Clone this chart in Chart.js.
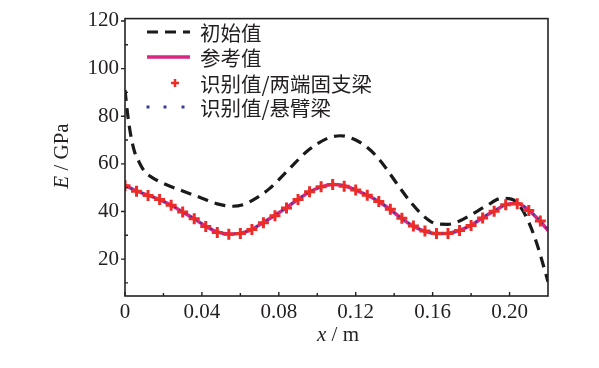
<!DOCTYPE html>
<html>
<head>
<meta charset="utf-8">
<script src="https://cdn.jsdelivr.net/npm/chart.js@4"></script>
<style>
  html, body { margin: 0; padding: 0; background: #fff; }
  #wrap { width: 599px; height: 368px; }
</style>
</head>
<body>
<div id="wrap"><canvas id="graphe"></canvas></div>
<script>
"use strict";

// valeurs
const initX = [0, 0.0015, 0.003, 0.005, 0.0075, 0.01, 0.014, 0.02, 0.03, 0.04, 0.048, 0.056, 0.062, 0.068, 0.075, 0.085, 0.095, 0.105, 0.112, 0.12, 0.128, 0.135, 0.142, 0.149, 0.156, 0.162, 0.168, 0.174, 0.18, 0.188, 0.196, 0.201, 0.206, 0.21, 0.214, 0.217, 0.22];
const initY = [91, 80, 72, 65, 60.5, 57, 54.3, 51.8, 48.6, 45.6, 43.2, 42.2, 43.0, 45.5, 49.5, 57.5, 65.5, 70.6, 71.8, 70, 65.5, 59, 51, 43.5, 37.6, 34.8, 34.6, 36, 38.6, 42.4, 45.5, 45.2, 41.5, 35.5, 27, 19, 10.5];

const refX = [0, 0.006, 0.012, 0.018, 0.024, 0.030, 0.036, 0.042, 0.048, 0.054, 0.060, 0.066, 0.072, 0.078, 0.084, 0.090, 0.096, 0.102, 0.108, 0.114, 0.120, 0.126, 0.132, 0.138, 0.144, 0.150, 0.156, 0.162, 0.168, 0.174, 0.180, 0.186, 0.192, 0.198, 0.204, 0.210, 0.216, 0.22];
const refY = [51, 48.6, 46.8, 45, 42.6, 39.8, 36.9, 33.8, 31.4, 30.5, 30.8, 32.5, 35.4, 38.4, 41.6, 45.1, 48.2, 50.3, 51.3, 50.8, 49.0, 46.8, 44.2, 40.8, 37.0, 33.8, 31.7, 30.7, 30.8, 32.1, 34.2, 37.4, 40.2, 42.8, 43.3, 40.5, 35.8, 32.0];

const fixeX = [0, 0.006, 0.012, 0.018, 0.024, 0.030, 0.036, 0.042, 0.048, 0.054, 0.060, 0.066, 0.072, 0.078, 0.084, 0.090, 0.096, 0.102, 0.108, 0.114, 0.120, 0.126, 0.132, 0.138, 0.144, 0.150, 0.156, 0.162, 0.168, 0.174, 0.180, 0.186, 0.192, 0.198, 0.204, 0.210, 0.216];
const fixeY = [50.8, 48.5, 46.7, 45, 42.6, 39.8, 36.9, 33.7, 31.2, 30.4, 30.7, 32.4, 35.3, 38.2, 41.5, 45.0, 48.3, 50.4, 51.3, 50.6, 49.0, 46.8, 44.2, 40.9, 37.2, 33.9, 31.8, 30.7, 30.8, 32.0, 34.1, 37.3, 40.1, 42.8, 43.2, 40.4, 36.0];

const consoleX = refX;
const consoleY = [51, 48.7, 46.8, 45.1, 42.7, 39.9, 36.9, 33.9, 31.5, 30.6, 30.9, 32.6, 35.4, 38.4, 41.7, 45.2, 48.3, 50.3, 51.2, 50.8, 49.1, 46.9, 44.2, 40.8, 37.1, 33.9, 31.8, 30.8, 30.9, 32.2, 34.3, 37.5, 40.3, 42.9, 43.4, 40.7, 36.0, 32.3];

const xTicks = [0, 0.04, 0.08, 0.12, 0.16, 0.20];
const xMinor = [0.02, 0.06, 0.10, 0.14, 0.18];
const yTicks = [20, 40, 60, 80, 100, 120];
const yMinor = [10, 30, 50, 70, 90, 110];

const noms = ["初始值", "参考值", "识别值/两端固支梁", "识别值/悬臂梁"];

const policeChiffres = "'Liberation Serif', 'Times New Roman', serif";
const policeCJK = "'Noto Sans CJK SC', 'Liberation Serif', sans-serif";
const couleurTexte = "#231f20";

function paires(xs, ys) {
  return xs.map((x, i) => ({ x: x, y: ys[i] }));
}

// cadre, graduations, titres d'axes et légende
const decor = {
  id: "decor",
  afterDraw(chart) {
    const ctx = chart.ctx;
    const a = chart.chartArea;
    const sx = chart.scales.x;
    const sy = chart.scales.y;
    ctx.save();
    ctx.strokeStyle = "#222";
    ctx.lineWidth = 1.6;
    ctx.strokeRect(a.left, a.top, a.right - a.left, a.bottom - a.top);

    ctx.lineWidth = 1.4;
    ctx.beginPath();
    xTicks.forEach(v => {
      const p = sx.getPixelForValue(v);
      ctx.moveTo(p, a.bottom); ctx.lineTo(p, a.bottom - 4);
    });
    xMinor.forEach(v => {
      const p = sx.getPixelForValue(v);
      ctx.moveTo(p, a.bottom); ctx.lineTo(p, a.bottom - 3);
    });
    yTicks.forEach(v => {
      const p = sy.getPixelForValue(v);
      ctx.moveTo(a.left, p); ctx.lineTo(a.left - 4, p);
    });
    yMinor.forEach(v => {
      const p = sy.getPixelForValue(v);
      ctx.moveTo(a.left, p); ctx.lineTo(a.left + 3, p);
    });
    ctx.stroke();

    // titre axe x : "x / m"
    ctx.fillStyle = couleurTexte;
    ctx.textBaseline = "middle";
    ctx.textAlign = "left";
    let morceaux = [["italic 21px " + policeChiffres, "x"], ["21px " + policeChiffres, " / m"]];
    let larg = 0;
    morceaux.forEach(m => { ctx.font = m[0]; larg += ctx.measureText(m[1]).width; });
    let cx = 338 - larg / 2;
    morceaux.forEach(m => { ctx.font = m[0]; ctx.fillText(m[1], cx, 335); cx += ctx.measureText(m[1]).width; });

    // titre axe y : "E / GPa"
    ctx.save();
    ctx.translate(62, 156);
    ctx.rotate(-Math.PI / 2);
    morceaux = [["italic 21px " + policeChiffres, "E"], ["21px " + policeChiffres, " / GPa"]];
    larg = 0;
    morceaux.forEach(m => { ctx.font = m[0]; larg += ctx.measureText(m[1]).width; });
    cx = -larg / 2;
    morceaux.forEach(m => { ctx.font = m[0]; ctx.fillText(m[1], cx, 0); cx += ctx.measureText(m[1]).width; });
    ctx.restore();

    // légende
    const lignes = [32, 57, 83, 107];
    const ds = chart.data.datasets;
    ctx.font = "20.5px " + policeCJK;
    lignes.forEach((yl, i) => {
      const d = ds[i];
      ctx.save();
      ctx.strokeStyle = d.borderColor;
      if (i === 2) {
        ctx.lineWidth = 2.5;
        ctx.beginPath();
        ctx.moveTo(171, yl); ctx.lineTo(179, yl);
        ctx.moveTo(175, yl - 4); ctx.lineTo(175, yl + 4);
        ctx.stroke();
      } else if (i === 3) {
        ctx.fillStyle = d.borderColor;
        [148, 165, 183].forEach(px => ctx.fillRect(px - 1.5, yl - 1.5, 3, 3));
      } else {
        ctx.lineWidth = d.borderWidth;
        ctx.setLineDash(d.borderDash || []);
        ctx.beginPath();
        ctx.moveTo(147, yl); ctx.lineTo(190, yl);
        ctx.stroke();
      }
      ctx.restore();
      ctx.fillStyle = couleurTexte;
      ctx.textAlign = "left";
      ctx.textBaseline = "middle";
      ctx.fillText(noms[i], 200, yl + 1);
    });
    ctx.restore();
  }
};

const ctx = document.getElementById("graphe");
let monGraphe = new Chart(ctx, {
  type: "line",
  data: {
    datasets: [{
      label: noms[0],
      data: paires(initX, initY),
      borderColor: "#1a1a1a",
      borderWidth: 3.2,
      borderDash: [11, 7],
      pointRadius: 0,
      cubicInterpolationMode: "monotone",
      order: 3
    }, {
      label: noms[1],
      data: paires(refX, refY),
      borderColor: "#d9267f",
      borderWidth: 3.5,
      pointRadius: 0,
      cubicInterpolationMode: "monotone",
      order: 2
    }, {
      label: noms[2],
      data: paires(fixeX, fixeY),
      showLine: false,
      borderColor: "#ec2d27",
      backgroundColor: "#ec2d27",
      pointStyle: "cross",
      pointRadius: 5.5,
      pointBorderWidth: 3,
      order: 0
    }, {
      label: noms[3],
      data: paires(consoleX, consoleY),
      borderColor: "#3b3a96",
      borderWidth: 2,
      borderDash: [2, 4],
      pointRadius: 0,
      cubicInterpolationMode: "monotone",
      order: 1
    }]
  },
  options: {
    responsive: true,
    maintainAspectRatio: false,
    animation: false,
    layout: { padding: { top: 13, right: 51, left: 0, bottom: 0 } },
    plugins: {
      legend: { display: false },
      tooltip: { enabled: false }
    },
    scales: {
      x: {
        type: "linear",
        min: 0,
        max: 0.22,
        afterBuildTicks: s => { s.ticks = xTicks.map(v => ({ value: v })); },
        afterFit: s => { s.height = 72; },
        grid: { display: false, drawTicks: false },
        border: { display: false },
        ticks: {
          padding: 4,
          color: couleurTexte,
          font: { family: policeChiffres, size: 21 },
          maxRotation: 0,
          callback: v => (v === 0 ? "0" : v.toFixed(2))
        }
      },
      y: {
        min: 4.5,
        max: 121,
        afterBuildTicks: s => { s.ticks = yTicks.map(v => ({ value: v })); },
        afterFit: s => { s.width = 125; },
        grid: { display: false, drawTicks: false },
        border: { display: false },
        ticks: {
          padding: 6,
          color: couleurTexte,
          font: { family: policeChiffres, size: 21 },
          callback: v => String(v)
        }
      }
    }
  },
  plugins: [decor]
});
</script>
</body>
</html>
